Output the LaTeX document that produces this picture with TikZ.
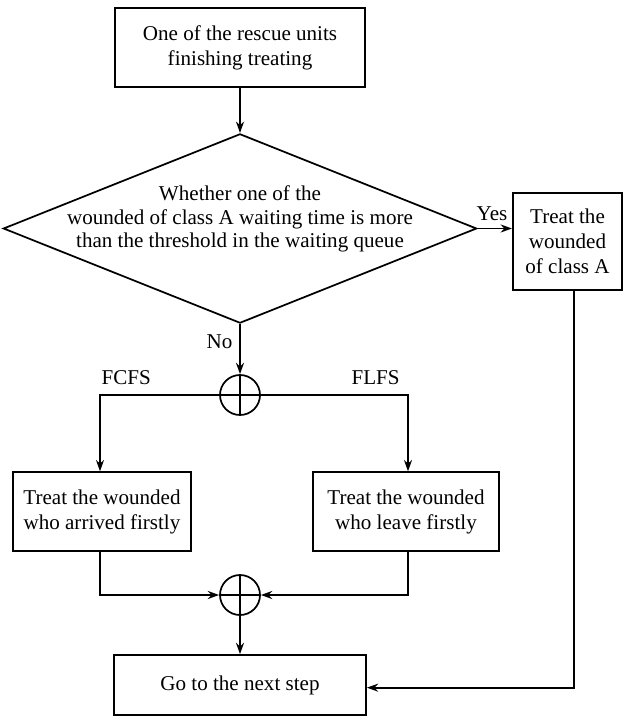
\documentclass[tikz,border=0pt]{standalone}
\usepackage{fontspec}
\setmainfont{Liberation Serif}
\usetikzlibrary{shapes.geometric,arrows.meta,positioning}
\begin{document}
\begin{tikzpicture}[x=0.75pt, y=-0.75pt,
	box/.style={draw, line width=1.3pt, inner sep=0pt, align=center, font=\fontsize{15.8}{18.8}\selectfont},
	cond/.style={draw, diamond, line width=1.3pt, inner sep=0pt},
	condtext/.style={align=center, inner sep=0pt, font=\fontsize{15.8}{17.6}\selectfont},
	junction/.style={draw, circle, line width=1.3pt, minimum size=30pt, inner sep=0pt},
	flow/.style={line width=1.3pt, -{Stealth[length=8.5pt,width=6pt]}},
	lbl/.style={font=\fontsize{15.8}{18}\selectfont, inner sep=0pt}]
	
	\useasboundingbox (0,0) rectangle (623,716);
	
	% BOXES
	\node[box, minimum width=188pt, minimum height=59pt] (start) at (240,47.5) {One of the rescue units\\finishing treating};
	\node[cond, minimum width=355pt, minimum height=142pt] (cond) at (240,228.5) {};
	\node[condtext] (condlbl) at (240,219) {Whether one of the\\wounded of class A waiting time is more\\than the threshold in the waiting queue};
	\node[box, minimum width=82pt, minimum height=73pt] (treatA) at (567.5,241.5) {Treat the\\wounded\\of class A};
	\node[junction] (sum1) at (240,395) {};
	\node[box, minimum width=133.5pt, minimum height=59pt] (first) at (102,511.5) {Treat the wounded\\who arrived firstly};
	\node[box, minimum width=139pt, minimum height=59pt] (leave) at (406,511.5) {Treat the wounded\\who leave firstly};
	\node[junction] (sum2) at (240,595) {};
	\node[box, minimum width=189pt, minimum height=45pt] (next) at (240,685) {Go to the next step};
	
	% CROSSES
	\draw[line width=1.3pt] (sum1.north) -- (sum1.south) (sum1.west) -- (sum1.east);
	\draw[line width=1.3pt] (sum2.north) -- (sum2.south) (sum2.west) -- (sum2.east);
	
	% CONNECTORS
	\draw[flow] (start) -- (cond);
	\draw[flow] (cond.east) -- (cond.east -| treatA.west) node[lbl, pos=0.42, above=5pt] {Yes};
	\draw[flow] (cond.south) -- (sum1.north) node[lbl, pos=0.35, left=5pt] {No};
	\draw[flow] (sum1.west) -| ([xshift=-1.5pt]first.north) node[lbl, pos=0.39, above=7pt] {FCFS};
	\draw[flow] (sum1.east) -| ([xshift=1.5pt]leave.north) node[lbl, pos=0.39, above=7pt] {FLFS};
	\draw[flow] ([xshift=-1.5pt]first.south) |- (sum2.west);
	\draw[flow] ([xshift=1.5pt]leave.south) |- (sum2.east);
	\draw[flow] (sum2) -- (next);
	\draw[flow] ([xshift=4.9pt]treatA.south) |- ([yshift=-2pt]next.east);
	
\end{tikzpicture}
\end{document}
